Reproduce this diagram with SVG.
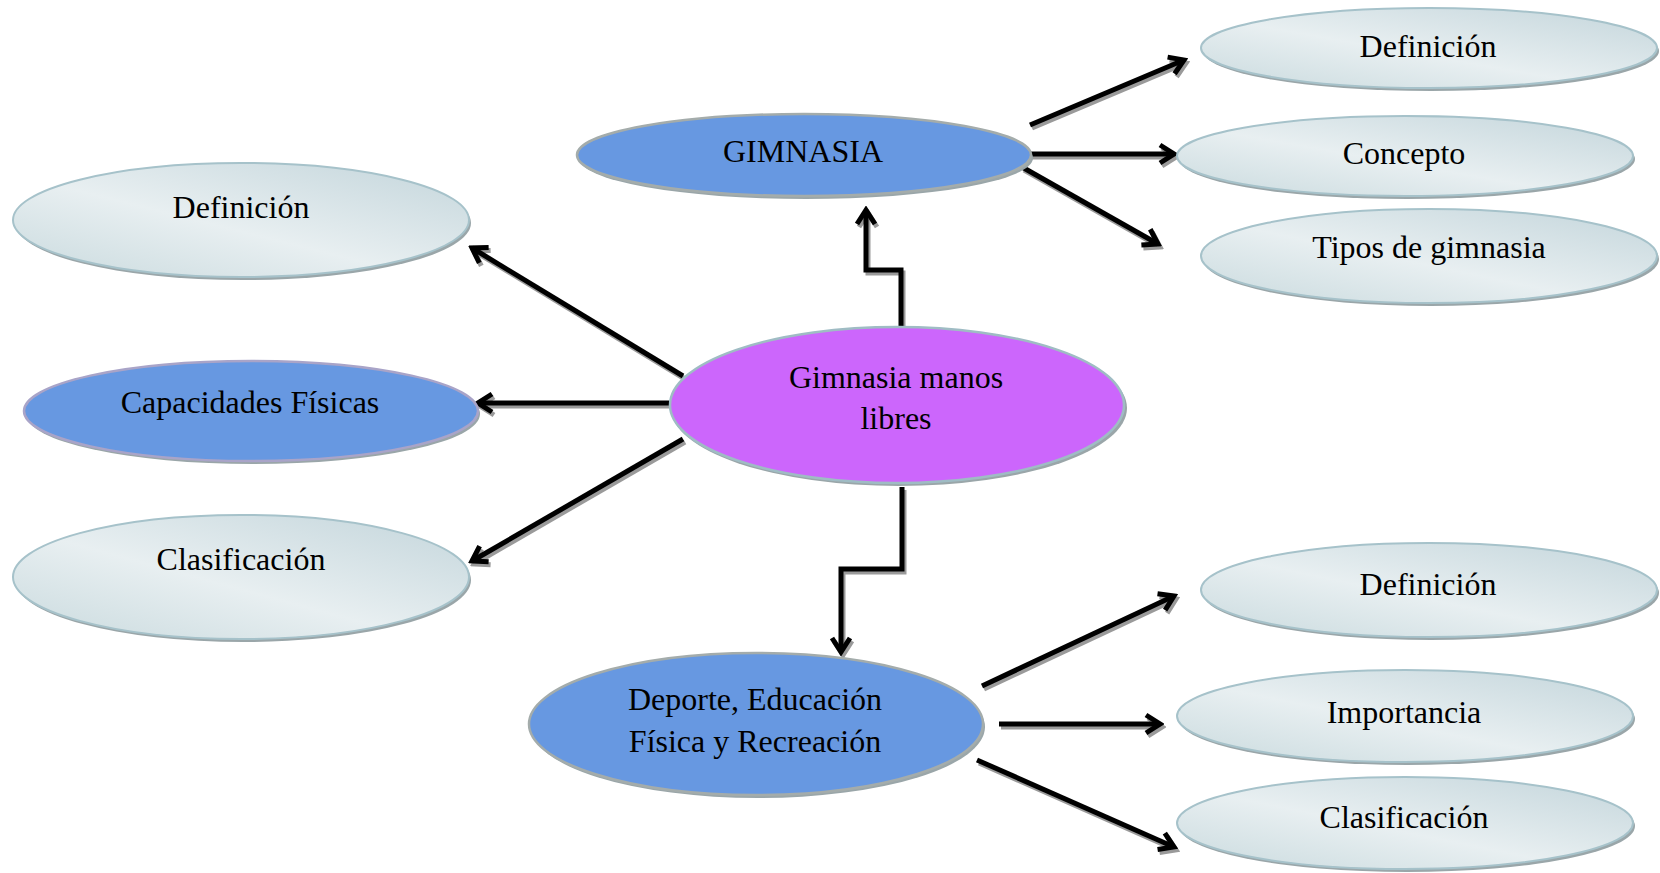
<svg xmlns="http://www.w3.org/2000/svg" width="1660" height="873" viewBox="0 0 1660 873">
<defs>
<linearGradient id="lg" x1="0" y1="1" x2="1" y2="0">
<stop offset="0" stop-color="#c9dade"/>
<stop offset="0.45" stop-color="#e8eff1"/>
<stop offset="1" stop-color="#c3d5db"/>
</linearGradient>
<marker id="ah" viewBox="0 0 24 24" refX="20" refY="12" markerWidth="24" markerHeight="24" markerUnits="userSpaceOnUse" orient="auto">
<path d="M6,3 L20,12 L6,21" fill="none" stroke="#000" stroke-width="5"/>
</marker>
<marker id="ahs" viewBox="0 0 24 24" refX="20" refY="12" markerWidth="24" markerHeight="24" markerUnits="userSpaceOnUse" orient="auto">
<path d="M6,3 L20,12 L6,21" fill="none" stroke="#9a9a9a" stroke-width="5"/>
</marker>
</defs>
<style>
.t{font-family:"Liberation Serif","Times New Roman",serif;font-size:32px;fill:#000;text-anchor:middle}
.sh{fill:#9aa6a9}
.light{fill:url(#lg);stroke:#a6c2ca;stroke-width:2}
.blue{fill:#6798e1;stroke:#a4acab;stroke-width:2.5}
.blue2{fill:#6798e1;stroke:#a9a4c8;stroke-width:2.5}
.purple{fill:#cc66fc;stroke:#9fbcc4;stroke-width:2.5}
.c{fill:none;stroke:#000;stroke-width:5;marker-end:url(#ah)}
.cs{fill:none;stroke:#9a9a9a;stroke-width:5;marker-end:url(#ahs)}
</style>
<rect width="1660" height="873" fill="#fff"/>

<g id="connectors">
<g transform="translate(2,3)">
<path class="cs" d="M1030,125 L1184,60"/>
<path class="cs" d="M1030,154 L1174,154"/>
<path class="cs" d="M1022,167 L1158,244"/>
<path class="cs" d="M901,330 L901,270 L866,270 L866,210"/>
<path class="cs" d="M683,376 L472,248"/>
<path class="cs" d="M669,403 L478,403"/>
<path class="cs" d="M683,439 L472,561"/>
<path class="cs" d="M902,487 L902,569 L841,569 L841,652"/>
<path class="cs" d="M982,686 L1174,596"/>
<path class="cs" d="M999,724 L1160,724"/>
<path class="cs" d="M977,760 L1174,847"/>
</g>
<path class="c" d="M1030,125 L1184,60"/>
<path class="c" d="M1030,154 L1174,154"/>
<path class="c" d="M1022,167 L1158,244"/>
<path class="c" d="M901,330 L901,270 L866,270 L866,210"/>
<path class="c" d="M683,376 L472,248"/>
<path class="c" d="M669,403 L478,403"/>
<path class="c" d="M683,439 L472,561"/>
<path class="c" d="M902,487 L902,569 L841,569 L841,652"/>
<path class="c" d="M982,686 L1174,596"/>
<path class="c" d="M999,724 L1160,724"/>
<path class="c" d="M977,760 L1174,847"/>
</g>

<g id="n-center">
<ellipse class="sh" cx="899" cy="408" rx="228" ry="78"/>
<ellipse class="purple" cx="897" cy="405" rx="227" ry="78"/>
<text class="t" x="896" y="388">Gimnasia manos</text>
<text class="t" x="896" y="429">libres</text>
</g>

<g id="n-gimnasia">
<ellipse class="sh" cx="806" cy="158" rx="227" ry="41"/>
<ellipse class="blue" cx="804" cy="155" rx="227" ry="41"/>
<text class="t" x="803" y="162">GIMNASIA</text>
</g>

<g id="n-deporte">
<ellipse class="sh" cx="758" cy="727" rx="227" ry="71"/>
<ellipse class="blue" cx="756" cy="724" rx="227" ry="71"/>
<text class="t" x="755" y="710">Deporte, Educación</text>
<text class="t" x="755" y="752">Física y Recreación</text>
</g>

<g id="n-capacidades">
<ellipse class="sh" cx="253" cy="414" rx="227" ry="50"/>
<ellipse class="blue2" cx="251" cy="411" rx="227" ry="50"/>
<text class="t" x="250" y="413">Capacidades Físicas</text>
</g>

<g id="n-left-definicion">
<ellipse class="sh" cx="243" cy="223" rx="228" ry="57"/>
<ellipse class="light" cx="241" cy="220" rx="228" ry="57"/>
<text class="t" x="241" y="218">Definición</text>
</g>

<g id="n-left-clasificacion">
<ellipse class="sh" cx="243" cy="580" rx="228" ry="62"/>
<ellipse class="light" cx="241" cy="577" rx="228" ry="62"/>
<text class="t" x="241" y="570">Clasificación</text>
</g>

<g id="n-g-definicion">
<ellipse class="sh" cx="1431" cy="51" rx="228" ry="40"/>
<ellipse class="light" cx="1429" cy="48" rx="228" ry="40"/>
<text class="t" x="1428" y="57">Definición</text>
</g>

<g id="n-g-concepto">
<ellipse class="sh" cx="1407" cy="159" rx="228" ry="40"/>
<ellipse class="light" cx="1405" cy="156" rx="228" ry="40"/>
<text class="t" x="1404" y="164">Concepto</text>
</g>

<g id="n-g-tipos">
<ellipse class="sh" cx="1431" cy="259" rx="228" ry="47"/>
<ellipse class="light" cx="1429" cy="256" rx="228" ry="47"/>
<text class="t" x="1429" y="258">Tipos de gimnasia</text>
</g>

<g id="n-d-definicion">
<ellipse class="sh" cx="1431" cy="593" rx="228" ry="47"/>
<ellipse class="light" cx="1429" cy="590" rx="228" ry="47"/>
<text class="t" x="1428" y="595">Definición</text>
</g>

<g id="n-d-importancia">
<ellipse class="sh" cx="1407" cy="719" rx="228" ry="46"/>
<ellipse class="light" cx="1405" cy="716" rx="228" ry="46"/>
<text class="t" x="1404" y="723">Importancia</text>
</g>

<g id="n-d-clasificacion">
<ellipse class="sh" cx="1407" cy="826" rx="228" ry="46"/>
<ellipse class="light" cx="1405" cy="823" rx="228" ry="46"/>
<text class="t" x="1404" y="828">Clasificación</text>
</g>
</svg>
